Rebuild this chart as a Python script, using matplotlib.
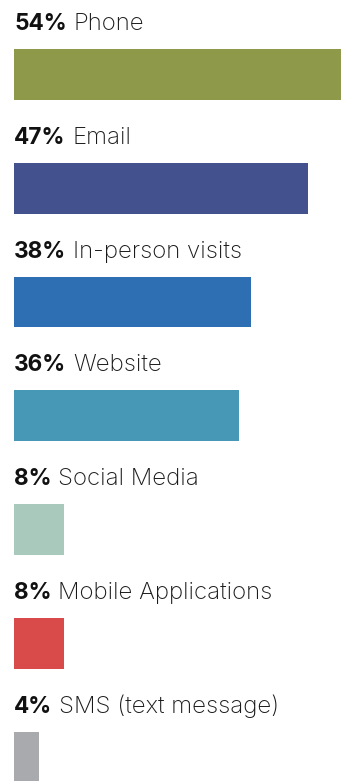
import numpy as np
import matplotlib.pyplot as plt

channels = ["Phone", "Email", "In-person visits", "Website", "Social Media",
            "Mobile Applications", "SMS (text message)"]
shares = [54, 47, 38, 36, 8, 8, 4]
colors = ["#8E9A4A", "#43528E", "#2E6EB3", "#4797B6", "#A8C9BC", "#D94A4A", "#A9AAAE"]

plt.rcParams["font.family"] = ["Inter", "DejaVu Sans"]

fig = plt.figure(figsize=(3.41, 7.81), dpi=100)
ax = fig.add_axes([0, 0, 1, 1])

rows = np.arange(len(channels))
bar_h = 0.448
ax.barh(rows, shares, height=bar_h, color=colors, left=0)

for i, (name, val) in enumerate(zip(channels, shares)):
    y = i - bar_h / 2 - 0.167
    num = ax.text(0, y, f"{val}%", fontsize=16.3, fontweight="bold",
                  color="#111111", va="baseline", ha="left")
    # label sits just after the bold percentage, sharing its baseline
    ax.annotate(name, xy=(1, 0), xycoords=num, xytext=(5, 0),
                textcoords="offset points", fontsize=17.3, fontweight="light",
                color="#1a1a1a", va="bottom", ha="left")

ax.set_xlim(-2.24, 52.32)
ax.set_ylim((781 - 74.5) / 113.75, -74.5 / 113.75)
ax.axis("off")

fig.savefig("out.png", dpi=100)
